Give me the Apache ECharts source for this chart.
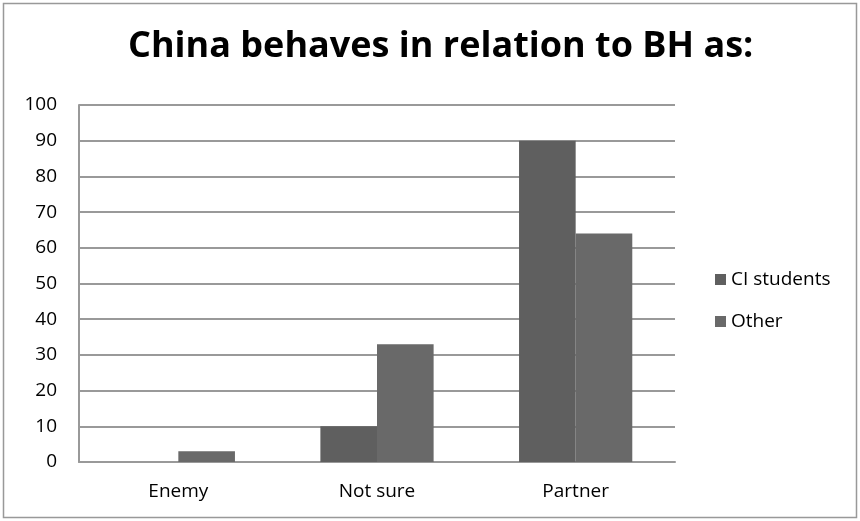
<!DOCTYPE html>
<html>
<head>
<meta charset="utf-8">
<script src="https://cdn.jsdelivr.net/npm/echarts@6/dist/echarts.min.js"></script>
<style>
  html, body { margin: 0; padding: 0; background: #fff; }
  #main { width: 860px; height: 521px; }
</style>
</head>
<body>
<div id="main"></div>
<script>
var categories = ['Enemy', 'Not sure', 'Partner'];
var ciStudents = [0, 10, 90];
var other = [3, 33, 64];
var yTicks = [0, 10, 20, 30, 40, 50, 60, 70, 80, 90, 100];

var font = 'Open Sans, sans-serif';
var chart = echarts.init(document.getElementById('main'));

chart.setOption({
    animation: false,
    backgroundColor: '#fff',
    title: {
        text: 'China behaves in relation to BH as:',
        left: 123,
        top: 24,
        textStyle: { fontFamily: font, fontSize: 36, fontWeight: 'bold', color: '#000' }
    },
    graphic: [{
        type: 'rect',
        shape: { x: 3.5, y: 3.5, width: 853, height: 514 },
        style: { fill: 'none', stroke: '#999', lineWidth: 1.5 },
        silent: true
    }],
    legend: {
        orient: 'vertical',
        left: 710,
        top: 265,
        itemWidth: 11,
        itemHeight: 11,
        itemGap: 23,
        icon: 'rect',
        textStyle: { fontFamily: font, fontSize: 19, color: '#000' },
        data: ['CI students', 'Other']
    },
    grid: {
        left: 79,
        right: 185,
        top: 105,
        bottom: 59,
        containLabel: false
    },
    xAxis: {
        type: 'category',
        data: categories,
        axisLine: { lineStyle: { color: '#999', width: 2 } },
        axisTick: { show: false },
        axisLabel: { fontFamily: font, fontSize: 19, color: '#000', margin: 20 }
    },
    yAxis: {
        type: 'value',
        min: yTicks[0],
        max: yTicks[yTicks.length - 1],
        interval: 10,
        axisLine: { show: true, lineStyle: { color: '#999', width: 2 } },
        axisTick: { show: false },
        splitLine: { lineStyle: { color: '#999', width: 2 } },
        axisLabel: { fontFamily: font, fontSize: 19, color: '#000', margin: 22 }
    },
    series: [
        {
            name: 'CI students',
            type: 'bar',
            data: ciStudents,
            barGap: '0%',
            barCategoryGap: '43%',
            itemStyle: { color: '#5f5f5f' }
        },
        {
            name: 'Other',
            type: 'bar',
            data: other,
            itemStyle: { color: '#696969' }
        }
    ]
});
</script>
</body>
</html>
